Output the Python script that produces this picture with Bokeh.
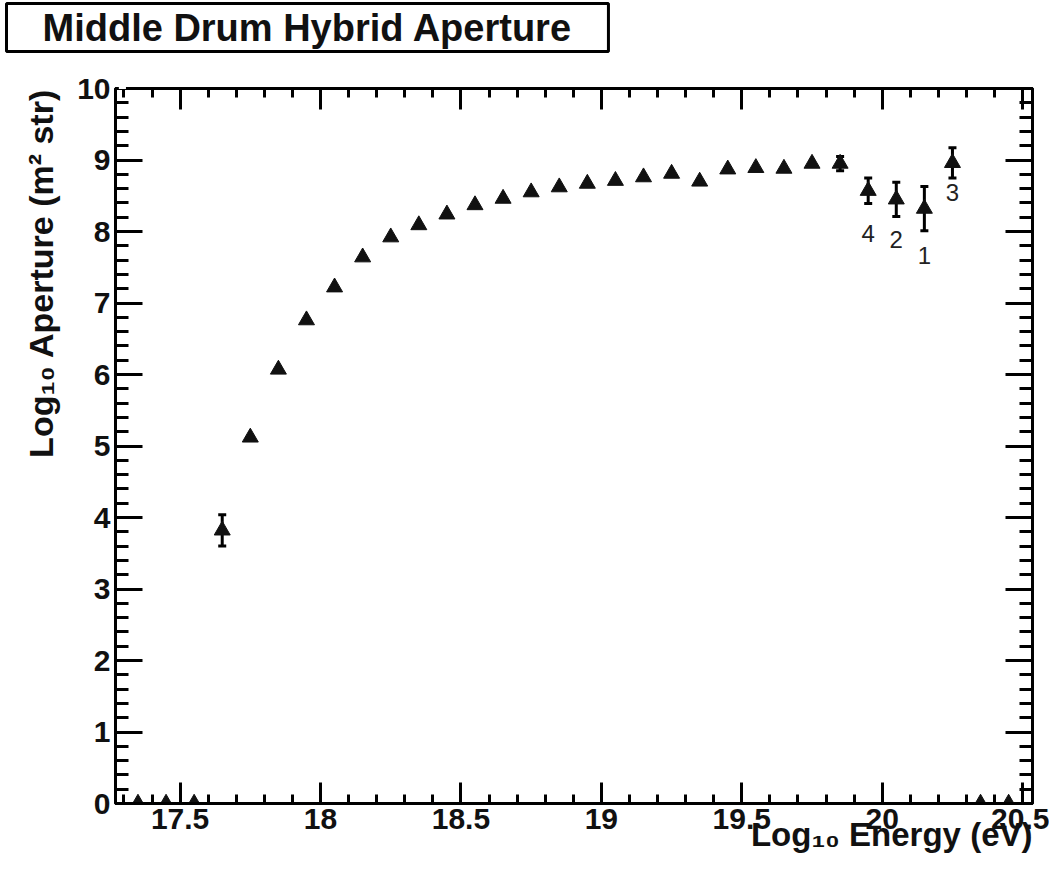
import numpy as np
from bokeh.plotting import figure
from bokeh.models import (ColumnDataSource, FixedTicker, LinearAxis, Label, Whisker,
                          TeeHead, Range1d, Title)
from bokeh.embed import file_html
from bokeh.resources import INLINE

# ---- data ----
energy = [17.35, 17.45, 17.55, 17.65, 17.75, 17.85, 17.95, 18.05, 18.15, 18.25,
          18.35, 18.45, 18.55, 18.65, 18.75, 18.85, 18.95, 19.05, 19.15, 19.25,
          19.35, 19.45, 19.55, 19.65, 19.75, 19.85, 19.95, 20.05, 20.15, 20.25,
          20.35, 20.45]
aperture = [0.0, 0.0, 0.0, 3.82, 5.12, 6.07, 6.76, 7.22, 7.64, 7.92,
            8.09, 8.24, 8.37, 8.46, 8.55, 8.62, 8.67, 8.71, 8.76, 8.81,
            8.70, 8.87, 8.89, 8.88, 8.95, 8.95, 8.57, 8.45, 8.32, 8.96,
            0.0, 0.0]
err = [0, 0, 0, 0.22, 0, 0, 0, 0, 0, 0,
       0, 0, 0, 0, 0, 0, 0, 0, 0, 0,
       0, 0, 0, 0, 0, 0.10, 0.18, 0.24, 0.31, 0.21,
       0, 0]

note_text = ["4", "2", "1", "3"]
note_x = [19.95, 20.05, 20.15, 20.25]
note_y = [7.97, 7.89, 7.66, 8.55]

x_tick_vals = [17.5, 18.0, 18.5, 19.0, 19.5, 20.0, 20.5]
x_tick_labels = ["17.5", "18", "18.5", "19", "19.5", "20", "20.5"]
y_tick_vals = [0, 1, 2, 3, 4, 5, 6, 7, 8, 9, 10]

title_text = "Middle Drum Hybrid Aperture"
x_title = "Log\u2081\u2080 Energy (eV)"
y_title = "Log\u2081\u2080 Aperture (m\u00b2 str)"

X0, X1 = 17.27, 20.535
Y0, Y1 = 0.0, 10.0

FONT = "Liberation Sans"

p = figure(width=1049, height=885, output_backend="svg", toolbar_location=None,
           x_range=Range1d(X0, X1), y_range=Range1d(Y0, Y1),
           min_border_left=111, min_border_right=17, min_border_top=88,
           min_border_bottom=82, background_fill_color="white",
           border_fill_color="white")
p.outline_line_color = "black"
p.outline_line_width = 3
p.xgrid.visible = False
p.ygrid.visible = False

x_minor = [round(v, 2) for v in np.arange(17.3, 20.55, 0.1)]
y_minor = [round(v, 2) for v in np.arange(0, 10.01, 0.2)]


def style_axis(ax, major_len, minor_len, labels=True):
    ax.axis_line_color = "black"
    ax.axis_line_width = 3
    ax.major_tick_line_color = "black"
    ax.major_tick_line_width = 3
    ax.minor_tick_line_color = "black"
    ax.minor_tick_line_width = 3
    ax.major_tick_in = major_len
    ax.major_tick_out = 0
    ax.minor_tick_in = minor_len
    ax.minor_tick_out = 0
    if labels:
        ax.major_label_text_font = FONT
        ax.major_label_text_font_style = "bold"
        ax.major_label_text_font_size = "30px"
        ax.major_label_text_color = "#111111"
    else:
        ax.major_label_text_color = None
        ax.major_label_standoff = 0


xa = p.xaxis[0]
xa.ticker = FixedTicker(ticks=x_tick_vals, minor_ticks=x_minor)
xa.major_label_overrides = {v: s for v, s in zip(x_tick_vals, x_tick_labels)}
style_axis(xa, 21, 9)
xa.major_label_standoff = 5
xa.axis_label = x_title
xa.axis_label_text_font = FONT
xa.axis_label_text_font_style = "bold"
xa.axis_label_text_font_size = "33px"
xa.axis_label_text_color = "#111111"
xa.axis_label_orientation = 0.0
xa.axis_label_standoff = 3
xa.axis_label_align = "end"

ya = p.yaxis[0]
ya.ticker = FixedTicker(ticks=y_tick_vals, minor_ticks=y_minor)
style_axis(ya, 27, 13)
ya.major_label_standoff = 5
ya.axis_label = y_title
ya.axis_label_text_font = FONT
ya.axis_label_text_font_style = "bold"
ya.axis_label_text_font_size = "34px"
ya.axis_label_text_color = "#111111"
ya.axis_label_orientation = float(np.pi / 2)
ya.axis_label_standoff = 33
ya.axis_label_align = "end"

top = LinearAxis(ticker=FixedTicker(ticks=x_tick_vals, minor_ticks=x_minor))
style_axis(top, 21, 9, labels=False)
p.add_layout(top, "above")
right = LinearAxis(ticker=FixedTicker(ticks=y_tick_vals, minor_ticks=y_minor))
style_axis(right, 27, 13, labels=False)
p.add_layout(right, "right")

# ---- title (boxed, top-left); a blank spacer lifts it ----
spacer = Title(text=".", text_color="white", text_font_size="50px", standoff=0)
p.add_layout(spacer, "above")
t = Title(text=title_text, align="left", text_font=FONT, text_font_style="bold",
          text_font_size="38px", text_color="#111111", offset=-109,
          border_line_color="black", border_line_width=3,
          background_fill_color="white", padding=(36, 3), standoff=0)
p.add_layout(t, "above")

# ---- error bars ----
ex = [x for x, e in zip(energy, err) if e > 0]
ey = [y for y, e in zip(aperture, err) if e > 0]
ee = [e for e in err if e > 0]
esrc = ColumnDataSource(dict(x=ex, upper=[y + e for y, e in zip(ey, ee)],
                             lower=[y - e for y, e in zip(ey, ee)]))
wh = Whisker(source=esrc, base="x", upper="upper", lower="lower",
             line_color="black", line_width=3,
             upper_head=TeeHead(size=8, line_width=3, line_color="black"),
             lower_head=TeeHead(size=8, line_width=3, line_color="black"))
p.add_layout(wh)

# ---- points ----
src = ColumnDataSource(dict(x=energy, y=aperture))
p.scatter("x", "y", source=src, marker="triangle", size=16,
          fill_color="#111111", line_color="#111111")

# ---- notes ----
for txt, x, y in zip(note_text, note_x, note_y):
    p.add_layout(Label(x=x, y=y, text=txt, text_align="center",
                       text_baseline="middle", text_font=FONT,
                       text_font_size="24px", text_color="#222222"))

open("out.html", "w").write(file_html(p, INLINE))
